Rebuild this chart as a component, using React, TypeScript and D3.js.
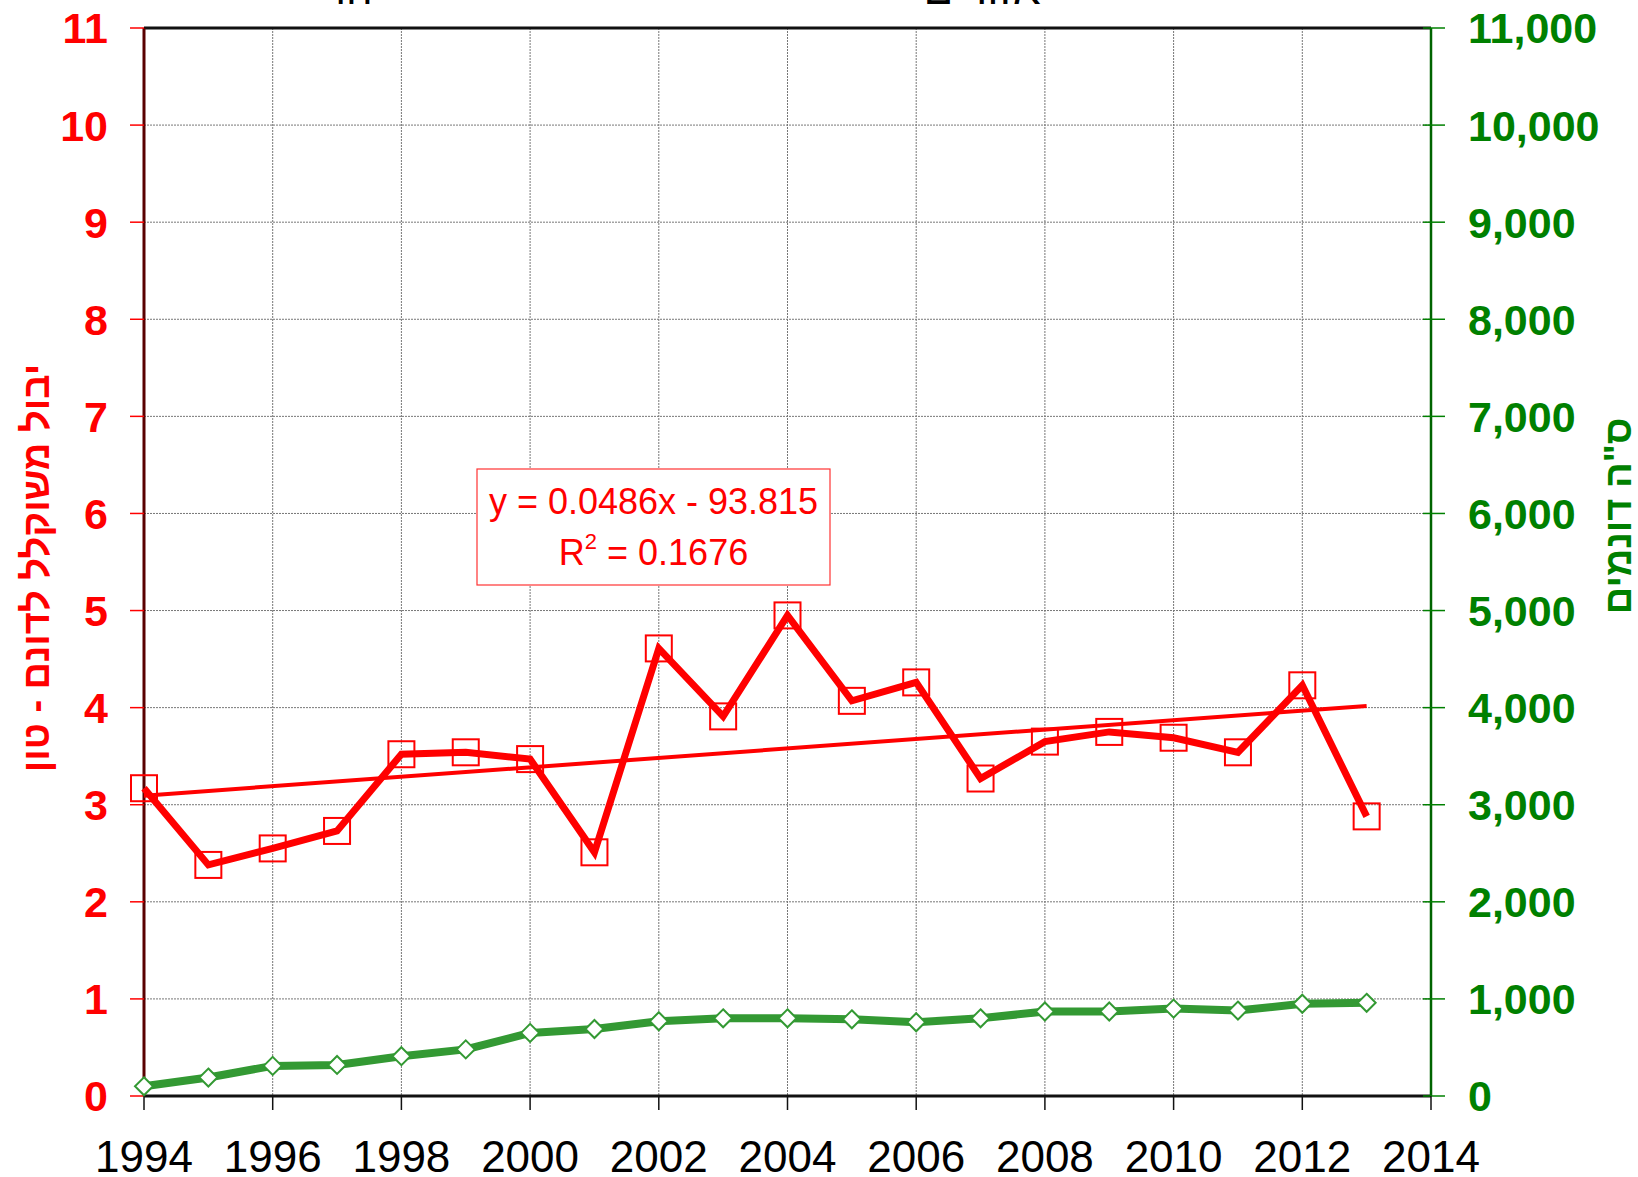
import * as d3 from 'd3';
import React from 'react';

// yield per dunam (tonnes) and total area (dunams), 1994-2013
const years = [1994, 1995, 1996, 1997, 1998, 1999, 2000, 2001, 2002, 2003, 2004, 2005, 2006, 2007, 2008, 2009, 2010, 2011, 2012, 2013];
const yieldPerDunam = [3.17, 2.38, 2.55, 2.73, 3.52, 3.54, 3.47, 2.51, 4.61, 3.91, 4.95, 4.07, 4.26, 3.27, 3.65, 3.75, 3.69, 3.54, 4.23, 2.88];
const totalDunams = [100, 190, 310, 320, 410, 480, 650, 690, 770, 800, 800, 790, 760, 800, 870, 870, 900, 880, 950, 960];

const xTicks = [1994, 1996, 1998, 2000, 2002, 2004, 2006, 2008, 2010, 2012, 2014];
const leftTicks = [0, 1, 2, 3, 4, 5, 6, 7, 8, 9, 10, 11];
const rightTicks = [0, 1000, 2000, 3000, 4000, 5000, 6000, 7000, 8000, 9000, 10000, 11000];

const trendSlope = 0.0486;
const trendIntercept = -93.815;
const trendLabel = 'y = 0.0486x - 93.815';
const r2Value = '0.1676';

const leftTitle = 'יבול משוקלל לדונם - טון';
const rightTitle = 'ס"ה דונמים';

const font = '"Liberation Sans", Arial, sans-serif';

export default function App() {
  const width = 1638;
  const height = 1177;
  const margin = { top: 28, right: 207, bottom: 81, left: 144 };
  const plotRight = width - margin.right;
  const plotBottom = height - margin.bottom;

  const x = d3.scaleLinear().domain([1994, 2014]).range([margin.left, plotRight]);
  const yL = d3.scaleLinear().domain([0, 11]).range([plotBottom, margin.top]);
  const yR = d3.scaleLinear().domain([0, 11000]).range([plotBottom, margin.top]);

  const redLine = d3.line<number>()
    .x((_, i) => x(years[i]))
    .y(d => yL(d))(yieldPerDunam) || '';
  const greenLine = d3.line<number>()
    .x((_, i) => x(years[i]))
    .y(d => yR(d))(totalDunams) || '';

  const x0 = years[0];
  const x1 = years[years.length - 1];
  const fmt = d3.format(',');

  const boxX = 477, boxY = 469, boxW = 353, boxH = 116;

  return (
    <svg width={width} height={height} style={{ position: 'absolute', left: 0, top: 0, background: '#fff' }} fontFamily={font}>
      {/* title, mostly cut off at the top */}
      <text x={348} y={4} fontSize={42} textAnchor="middle" fill="#000">הר</text>
      <text x={982} y={4} fontSize={44} textAnchor="middle" fill="#000">אזורים</text>

      {/* grid */}
      {leftTicks.filter(t => t > 0 && t < 11).map(t => (
        <line key={'gy' + t} x1={margin.left} x2={plotRight} y1={yL(t)} y2={yL(t)}
          stroke="#777" strokeWidth={1} strokeDasharray="2,1" />
      ))}
      {xTicks.filter(t => t > 1994 && t < 2014).map(t => (
        <line key={'gx' + t} x1={x(t)} x2={x(t)} y1={margin.top} y2={plotBottom}
          stroke="#777" strokeWidth={1} strokeDasharray="2,1" />
      ))}

      {/* frame */}
      <line x1={margin.left} x2={plotRight} y1={margin.top} y2={margin.top} stroke="#111" strokeWidth={3} />
      <line x1={margin.left} x2={plotRight} y1={plotBottom} y2={plotBottom} stroke="#111" strokeWidth={3} />
      <line x1={margin.left} x2={margin.left} y1={margin.top} y2={plotBottom} stroke="#5a0000" strokeWidth={3} />
      <line x1={plotRight} x2={plotRight} y1={margin.top} y2={plotBottom} stroke="#006400" strokeWidth={2.5} />

      {/* left axis */}
      {leftTicks.map(t => (
        <g key={'l' + t}>
          <line x1={margin.left - 14} x2={margin.left} y1={yL(t)} y2={yL(t)} stroke="#ff0000" strokeWidth={1.5} />
          <text x={108} y={yL(t)} dy="0.36em" textAnchor="end" fontSize={43} fontWeight="bold" fill="#ff0000">{t}</text>
        </g>
      ))}
      <text transform={`translate(49, 568) rotate(-90)`} textAnchor="middle"
        fontSize={38} fontWeight="bold" fill="#ff0000" direction="rtl">{leftTitle}</text>

      {/* right axis */}
      {rightTicks.map(t => (
        <g key={'r' + t}>
          <line x1={plotRight - 8} x2={plotRight + 14} y1={yR(t)} y2={yR(t)} stroke="#008000" strokeWidth={1.5} />
          <text x={1468} y={yR(t)} dy="0.36em" textAnchor="start" fontSize={43} fontWeight="bold" fill="#008000">{fmt(t)}</text>
        </g>
      ))}
      <text transform={`translate(1631, 516) rotate(-90)`} textAnchor="middle"
        fontSize={38} fontWeight="bold" fill="#008000" direction="rtl">{rightTitle}</text>

      {/* x axis */}
      {xTicks.map(t => (
        <g key={'x' + t}>
          <line x1={x(t)} x2={x(t)} y1={plotBottom} y2={plotBottom + 14} stroke="#111" strokeWidth={1.5} />
          <text x={x(t)} y={1172} textAnchor="middle" fontSize={44} fill="#000">{t}</text>
        </g>
      ))}

      {/* area series */}
      <path d={greenLine} fill="none" stroke="#339933" strokeWidth={8} strokeLinejoin="round" />
      {totalDunams.map((v, i) => {
        const cx = x(years[i]);
        const cy = yR(v);
        return (
          <path key={'d' + i} d={`M${cx},${cy - 9}L${cx + 9},${cy}L${cx},${cy + 9}L${cx - 9},${cy}Z`}
            fill="#fff" stroke="#339933" strokeWidth={2} />
        );
      })}

      {/* yield series */}
      <path d={redLine} fill="none" stroke="#ff0000" strokeWidth={7} strokeLinejoin="miter" />
      {yieldPerDunam.map((v, i) => (
        <rect key={'s' + i} x={x(years[i]) - 13} y={yL(v) - 13} width={26} height={26}
          fill="none" stroke="#ff0000" strokeWidth={2} />
      ))}

      {/* linear trend */}
      <line x1={x(x0)} y1={yL(trendSlope * x0 + trendIntercept)} x2={x(x1)} y2={yL(trendSlope * x1 + trendIntercept)}
        stroke="#ff0000" strokeWidth={4} />

      {/* trend label */}
      <rect x={boxX} y={boxY} width={boxW} height={boxH} fill="#fff" stroke="#ff3333" strokeWidth={1.2} />
      <text x={boxX + boxW / 2} y={boxY + 45} textAnchor="middle" fontSize={36} fill="#ff0000">{trendLabel}</text>
      <text x={boxX + boxW / 2} y={boxY + 96} textAnchor="middle" fontSize={36} fill="#ff0000">
        R<tspan dy={-16} fontSize={22}>2</tspan><tspan dy={16}> = {r2Value}</tspan>
      </text>
    </svg>
  );
}
